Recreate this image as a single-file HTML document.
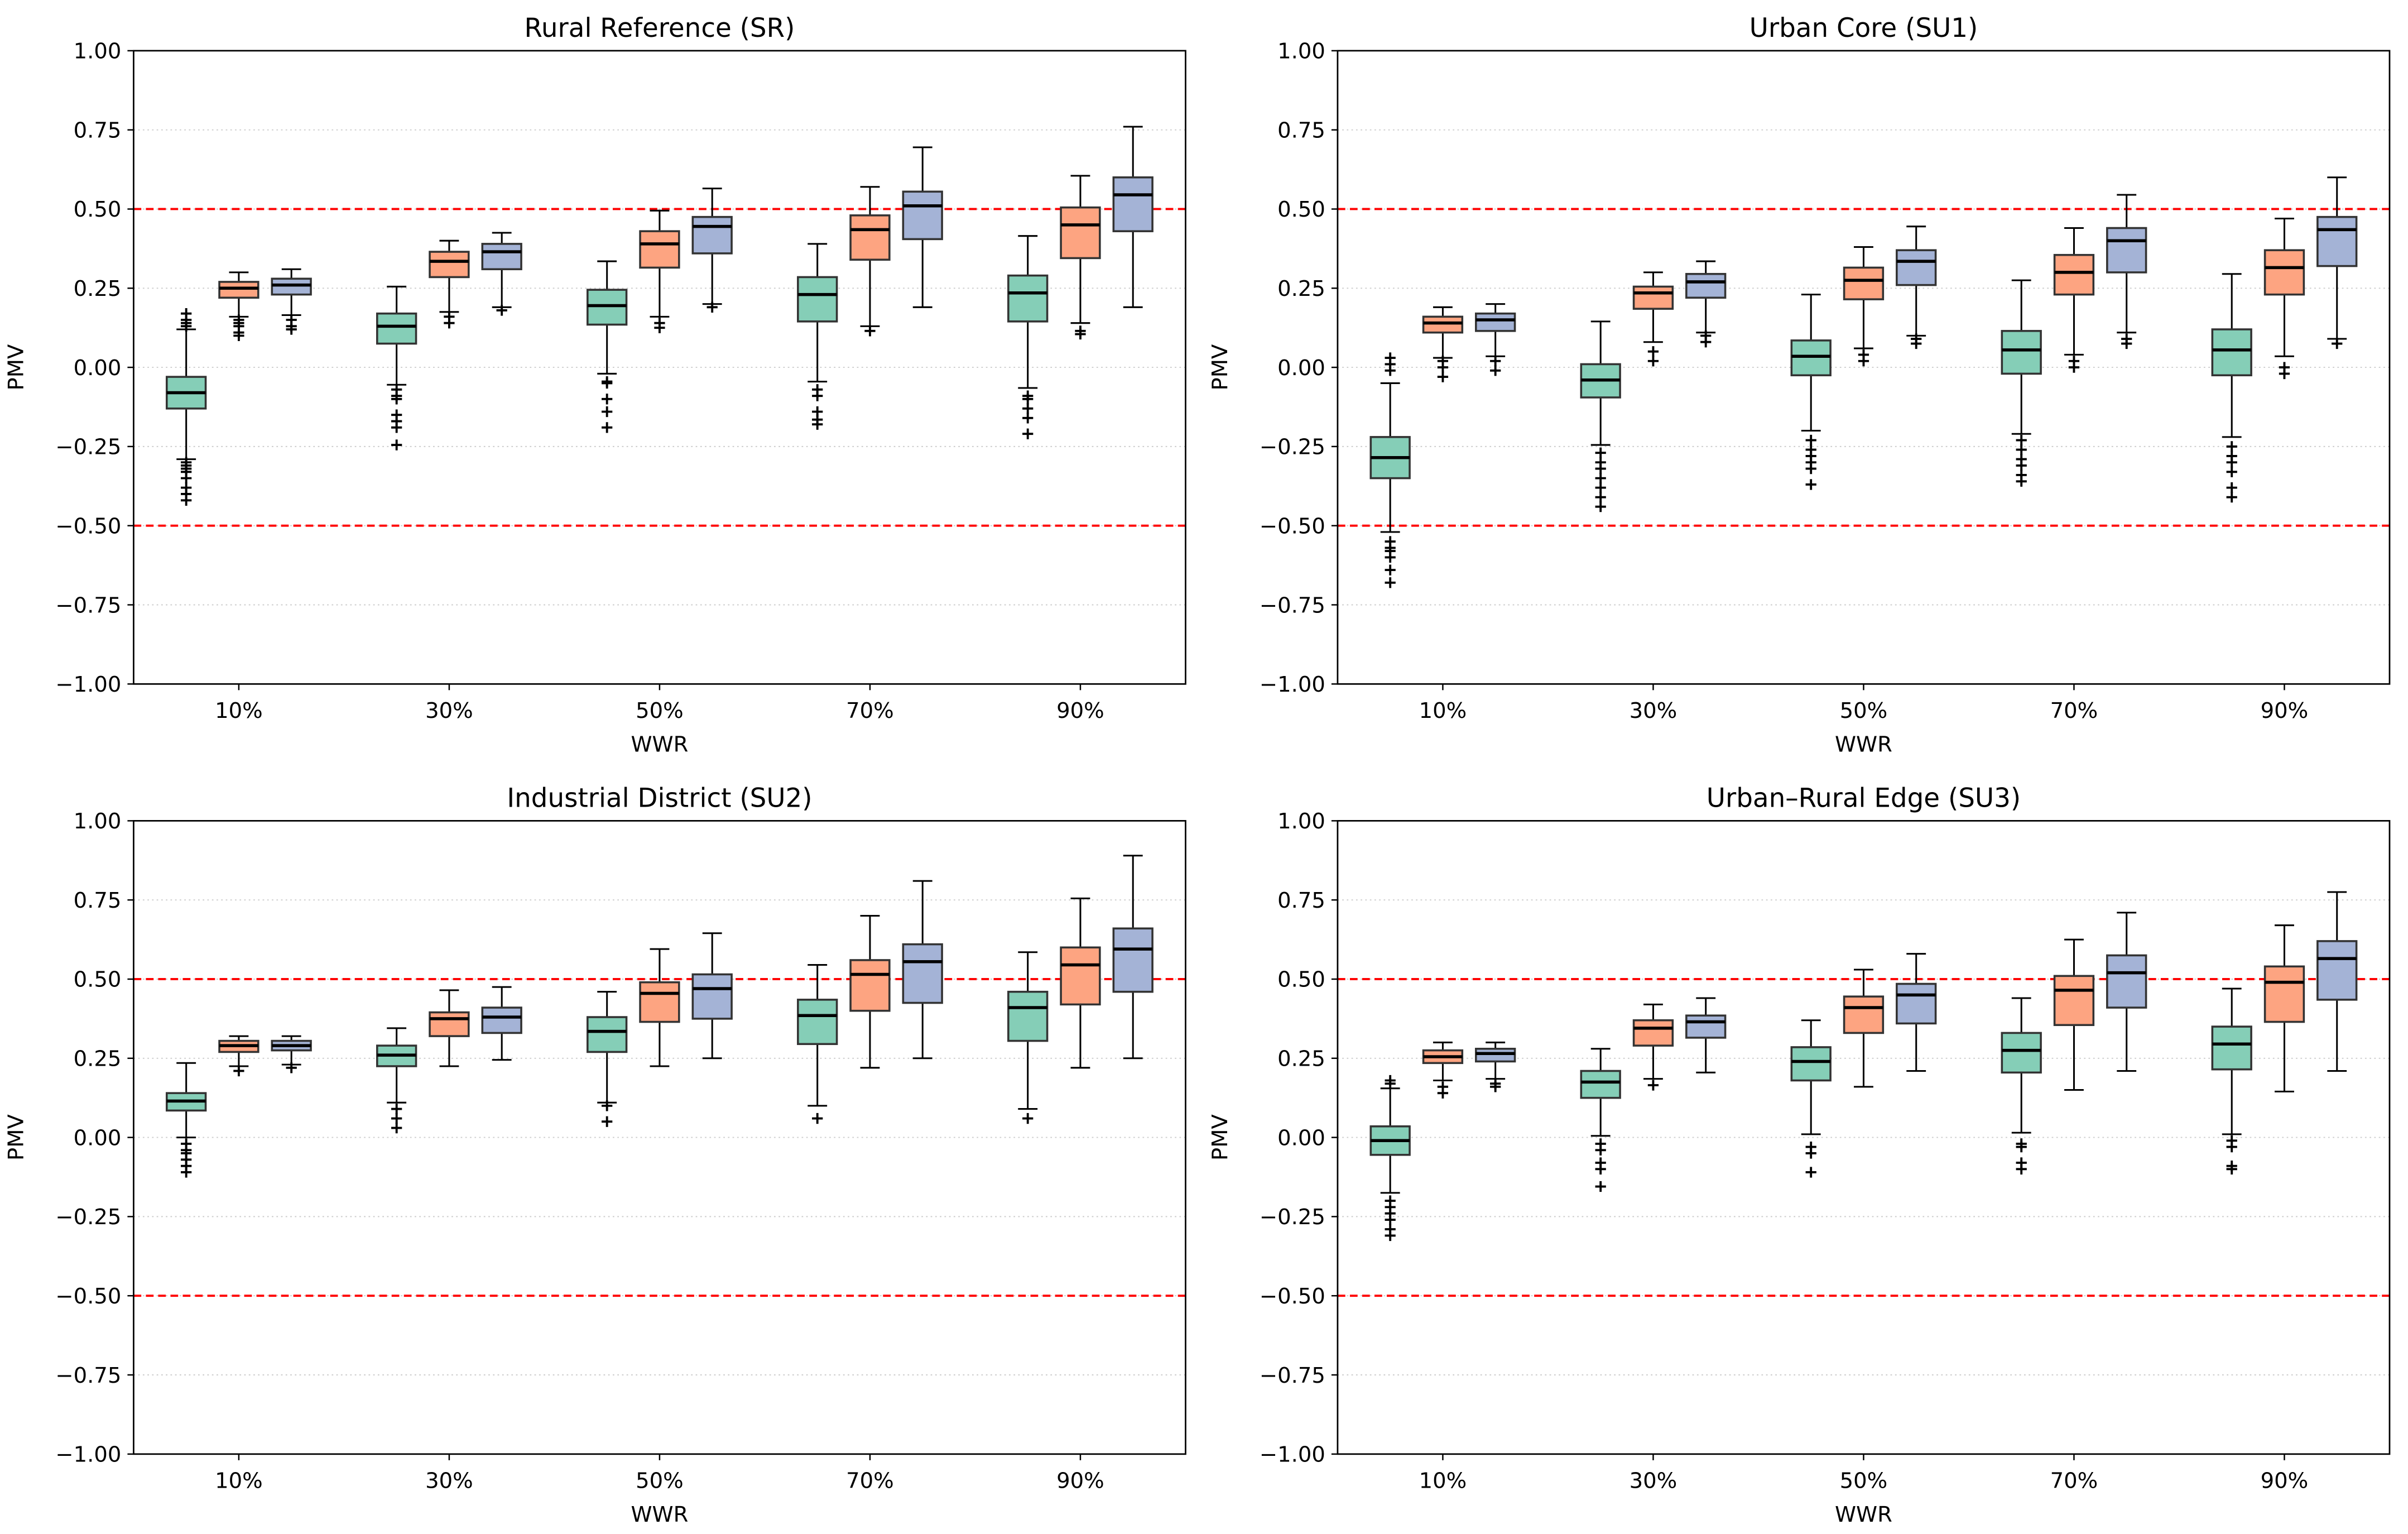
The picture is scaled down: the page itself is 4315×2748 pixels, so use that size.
<!DOCTYPE html>
<html><head><meta charset="utf-8"><style>
html,body{margin:0;padding:0;background:#fff}
svg{display:block}
text{font-family:"DejaVu Sans","Liberation Sans",sans-serif;fill:#000}
</style></head><body>
<svg id="chart" width="4315" height="2748" viewBox="0 0 1568 998" preserveAspectRatio="none" xmlns="http://www.w3.org/2000/svg"></svg>
<script>
const panelTitles = ["Rural Reference (SR)", "Urban Core (SU1)", "Industrial District (SU2)", "Urban\u2013Rural Edge (SU3)"];
const categories = ["10%", "30%", "50%", "70%", "90%"];
const yTicks = [1.0, 0.75, 0.5, 0.25, 0.0, -0.25, -0.5, -0.75, -1.0];
const yTickLabels = ["1.00", "0.75", "0.50", "0.25", "0.00", "\u22120.25", "\u22120.50", "\u22120.75", "\u22121.00"];
const thresholds = [0.5, -0.5];
// each entry: [whiskerLow, q1, median, q3, whiskerHigh, [outliers]] per category
const srGreen = [[-0.29,-0.13,-0.08,-0.03,0.12,[0.13,0.14,0.15,0.17,-0.30,-0.31,-0.32,-0.33,-0.35,-0.38,-0.40,-0.42]],[-0.055,0.075,0.13,0.17,0.255,[-0.07,-0.09,-0.10,-0.15,-0.17,-0.19,-0.245]],[-0.02,0.135,0.195,0.245,0.335,[-0.045,-0.05,-0.10,-0.14,-0.19]],[-0.045,0.145,0.23,0.285,0.39,[-0.07,-0.09,-0.14,-0.165,-0.18]],[-0.065,0.145,0.235,0.29,0.415,[-0.09,-0.10,-0.13,-0.16,-0.21]]];
const srOrange = [[0.16,0.22,0.25,0.27,0.30,[0.15,0.14,0.13,0.11,0.10]],[0.175,0.285,0.335,0.365,0.40,[0.16,0.14]],[0.16,0.315,0.39,0.43,0.495,[0.14,0.125]],[0.13,0.34,0.435,0.48,0.57,[0.115]],[0.14,0.345,0.45,0.505,0.605,[0.115,0.105]]];
const srBlue = [[0.165,0.23,0.26,0.28,0.31,[0.15,0.13,0.12]],[0.19,0.31,0.365,0.39,0.425,[0.18]],[0.20,0.36,0.445,0.475,0.565,[0.19]],[0.19,0.405,0.51,0.555,0.695,[]],[0.19,0.43,0.545,0.60,0.76,[]]];
const su1Green = [[-0.52,-0.35,-0.285,-0.22,-0.05,[0.03,0.01,-0.01,-0.55,-0.57,-0.58,-0.60,-0.64,-0.68]],[-0.245,-0.095,-0.04,0.01,0.145,[-0.27,-0.30,-0.32,-0.35,-0.38,-0.41,-0.44]],[-0.20,-0.025,0.035,0.085,0.23,[-0.23,-0.26,-0.28,-0.30,-0.32,-0.37]],[-0.21,-0.02,0.055,0.115,0.275,[-0.23,-0.26,-0.29,-0.31,-0.34,-0.36]],[-0.22,-0.025,0.055,0.12,0.295,[-0.25,-0.28,-0.30,-0.33,-0.38,-0.41]]];
const su1Orange = [[0.03,0.11,0.14,0.16,0.19,[0.02,0.0,-0.03]],[0.08,0.185,0.235,0.255,0.30,[0.05,0.02]],[0.06,0.215,0.275,0.315,0.38,[0.04,0.02]],[0.04,0.23,0.30,0.355,0.44,[0.02,0.0]],[0.035,0.23,0.315,0.37,0.47,[0.0,-0.02]]];
const su1Blue = [[0.035,0.115,0.15,0.17,0.20,[0.02,-0.01]],[0.11,0.22,0.27,0.295,0.335,[0.10,0.08]],[0.10,0.26,0.335,0.37,0.445,[0.09,0.075]],[0.11,0.30,0.40,0.44,0.545,[0.09,0.075]],[0.09,0.32,0.435,0.475,0.60,[0.075]]];
const su2Green = [[0.0,0.085,0.115,0.14,0.235,[-0.02,-0.04,-0.05,-0.07,-0.09,-0.11]],[0.11,0.225,0.26,0.29,0.345,[0.09,0.06,0.03]],[0.11,0.27,0.335,0.38,0.46,[0.10,0.05]],[0.10,0.295,0.385,0.435,0.545,[0.06]],[0.09,0.305,0.41,0.46,0.585,[0.06]]];
const su2Orange = [[0.225,0.27,0.29,0.305,0.32,[0.21]],[0.225,0.32,0.375,0.395,0.465,[]],[0.225,0.365,0.455,0.49,0.595,[]],[0.22,0.40,0.515,0.56,0.70,[]],[0.22,0.42,0.545,0.60,0.755,[]]];
const su2Blue = [[0.23,0.275,0.29,0.305,0.32,[0.22]],[0.245,0.33,0.38,0.41,0.475,[]],[0.25,0.375,0.47,0.515,0.645,[]],[0.25,0.425,0.555,0.61,0.81,[]],[0.25,0.46,0.595,0.66,0.89,[]]];
const su3Green = [[-0.175,-0.055,-0.01,0.035,0.155,[0.17,0.18,-0.20,-0.22,-0.24,-0.26,-0.29,-0.31]],[0.005,0.125,0.175,0.21,0.28,[-0.02,-0.04,-0.08,-0.10,-0.155]],[0.01,0.18,0.24,0.285,0.37,[-0.03,-0.05,-0.11]],[0.015,0.205,0.275,0.33,0.44,[-0.02,-0.03,-0.08,-0.10]],[0.01,0.215,0.295,0.35,0.47,[-0.01,-0.03,-0.09,-0.10]]];
const su3Orange = [[0.18,0.235,0.255,0.275,0.30,[0.16,0.14]],[0.185,0.29,0.345,0.37,0.42,[0.165]],[0.16,0.33,0.41,0.445,0.53,[]],[0.15,0.355,0.465,0.51,0.625,[]],[0.145,0.365,0.49,0.54,0.67,[]]];
const su3Blue = [[0.185,0.24,0.265,0.28,0.30,[0.17,0.16]],[0.205,0.315,0.365,0.385,0.44,[]],[0.21,0.36,0.45,0.485,0.58,[]],[0.21,0.41,0.52,0.575,0.71,[]],[0.21,0.435,0.565,0.62,0.775,[]]];
const panelSeries = [[srGreen,srOrange,srBlue],[su1Green,su1Orange,su1Blue],[su2Green,su2Orange,su2Blue],[su3Green,su3Orange,su3Blue]];
const seriesNames = ["green","orange","blue"];
const seriesColors = ["#85CEB7","#FDA481","#A4B3D6"];

const NS="http://www.w3.org/2000/svg";
const svg=document.getElementById('chart');
function mk(tag,attrs,parent){const e=document.createElementNS(NS,tag);for(const k in attrs)e.setAttribute(k,attrs[k]);(parent||svg).appendChild(e);return e;}
const panelPos=[[87,33],[871,33],[87,534],[871,534]];
const W=685,H=412;
panelPos.forEach((p,pi)=>{
  const g=mk('g',{});
  
  
  const x0=p[0],y0=p[1];
  const ys=v=>y0+(1-v)/2*H;
  const gw=W/categories.length;
  const xs=i=>x0+(i+0.5)*gw;
  yTicks.forEach((t,i)=>{
    if(t!==1&&t!==-1){const gl=mk('line',{x1:x0,x2:x0+W,y1:ys(t),y2:ys(t),stroke:'#cccccc','stroke-width':0.7,'stroke-dasharray':'1,2'},g);
    }
    const tk=mk('line',{x1:x0-4,x2:x0,y1:ys(t),y2:ys(t),stroke:'#000','stroke-width':0.9},g);
    
    const tl=mk('text',{x:x0-8,y:ys(t)+5,'text-anchor':'end','font-size':14},g);
    tl.textContent=yTickLabels[i];
    
  });
  thresholds.forEach(t=>{
    const l=mk('line',{x1:x0,x2:x0+W,y1:ys(t),y2:ys(t),stroke:'#ff0000','stroke-width':1.4,'stroke-dasharray':'5,3'},g);
    
  });
  categories.forEach((c,ci)=>{
    const tk=mk('line',{x1:xs(ci),x2:xs(ci),y1:y0+H,y2:y0+H+4,stroke:'#000','stroke-width':0.9},g);
    
    const tl=mk('text',{x:xs(ci),y:y0+H+22,'text-anchor':'middle','font-size':14},g);
    tl.textContent=c;
    
    panelSeries[pi].forEach((ser,si)=>{
      const d=ser[ci];
      const cx=xs(ci)+(si-1)*0.25*gw;
      const bw=0.185*gw, cw=bw/2;
      const bg=mk('g',{},g);
      
      
      mk('line',{x1:cx,x2:cx,y1:ys(d[0]),y2:ys(d[1]),stroke:'#000','stroke-width':1.1},bg);
      mk('line',{x1:cx,x2:cx,y1:ys(d[3]),y2:ys(d[4]),stroke:'#000','stroke-width':1.1},bg);
      mk('line',{x1:cx-cw/2,x2:cx+cw/2,y1:ys(d[0]),y2:ys(d[0]),stroke:'#000','stroke-width':1.1},bg);
      mk('line',{x1:cx-cw/2,x2:cx+cw/2,y1:ys(d[4]),y2:ys(d[4]),stroke:'#000','stroke-width':1.1},bg);
      mk('rect',{x:cx-bw/2,y:ys(d[3]),width:bw,height:ys(d[1])-ys(d[3]),fill:seriesColors[si],stroke:'#333','stroke-width':1.3},bg);
      mk('line',{x1:cx-bw/2,x2:cx+bw/2,y1:ys(d[2]),y2:ys(d[2]),stroke:'#000','stroke-width':2},bg);
      d[5].forEach(o=>{
        const oy=ys(o);
        const m=mk('path',{d:`M${cx-3.5},${oy}H${cx+3.5}M${cx},${oy-3.5}V${oy+3.5}`,stroke:'#000','stroke-width':1.4},bg);
        
      });
    });
  });
  const fr=mk('rect',{x:x0,y:y0,width:W,height:H,fill:'none',stroke:'#000','stroke-width':1},g);
  
  const t=mk('text',{x:x0+W/2,y:y0-9,'text-anchor':'middle','font-size':17},g);
  t.textContent=panelTitles[pi];
  
  const xl=mk('text',{x:x0+W/2,y:y0+H+44,'text-anchor':'middle','font-size':14},g);
  xl.textContent='WWR';
  
  const yl=mk('text',{x:0,y:0,'text-anchor':'middle','font-size':14,transform:`translate(${x0-72},${y0+H/2}) rotate(-90)`},g);
  yl.textContent='PMV';
  
});
</script>
</body></html>
